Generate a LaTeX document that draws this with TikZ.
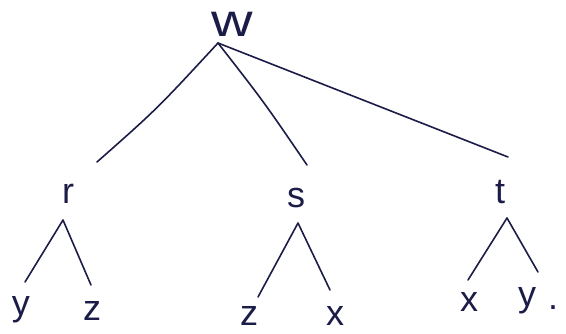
\documentclass[tikz,border=0pt]{standalone}
\usepackage{fontspec}
\setmainfont{Liberation Sans}
\definecolor{ink}{RGB}{28,28,72}
\begin{document}
\begin{tikzpicture}[x=1pt,y=-1pt,
  lbl/.style={text=ink,inner sep=0pt,anchor=base,font=\fontsize{36}{38}\selectfont},
  big/.style={text=ink,inner sep=0pt,anchor=base,font=\fontsize{46}{48}\selectfont},
  edge/.style={draw=ink,line width=1.6pt,line cap=round,line join=round}]
\useasboundingbox (0,0) rectangle (566,333);
\fill[white] (0,0) rectangle (566,333);
% labels
\node[big] (w) at (232,36) {\scalebox{1.25}[1]{w}};
\node[lbl] (r) at (68,203) {r};
\node[lbl] (s) at (296,207) {s};
\node[lbl] (t) at (500,203) {t};
\node[lbl] (ry) at (21,315) {y};
\node[lbl] (rz) at (92,320) {z};
\node[lbl] (sz) at (249,325) {z};
\node[lbl] (sx) at (335,325) {x};
\node[lbl] (tx) at (469,311) {x};
\node[lbl] (ty) at (527,306) {y};
\node[lbl,anchor=base west] (dot) at (548,309) {.};
% attachment points
\coordinate (wa) at (218,43);
\coordinate (ra) at (97,162);
\coordinate (sa) at (307,165);
\coordinate (ta) at (508,157);
\coordinate (rp) at (63,220);
\coordinate (sp) at (298,223);
\coordinate (tp) at (507,218);
\coordinate (ryp) at (25,282);
\coordinate (rzp) at (91,285);
\coordinate (szp) at (258,297);
\coordinate (sxp) at (330,290);
\coordinate (txp) at (468,280);
\coordinate (typ) at (538,272);
% edges
\path[edge] (wa) .. controls (157,109) .. (ra);
\path[edge] (wa) .. controls (264,102) .. (sa);
\path[edge] (wa) -- (ta);
\path[edge] (ryp) -- (rp) -- (rzp);
\path[edge] (szp) -- (sp) -- (sxp);
\path[edge] (txp) -- (tp) -- (typ);
\end{tikzpicture}
\end{document}
